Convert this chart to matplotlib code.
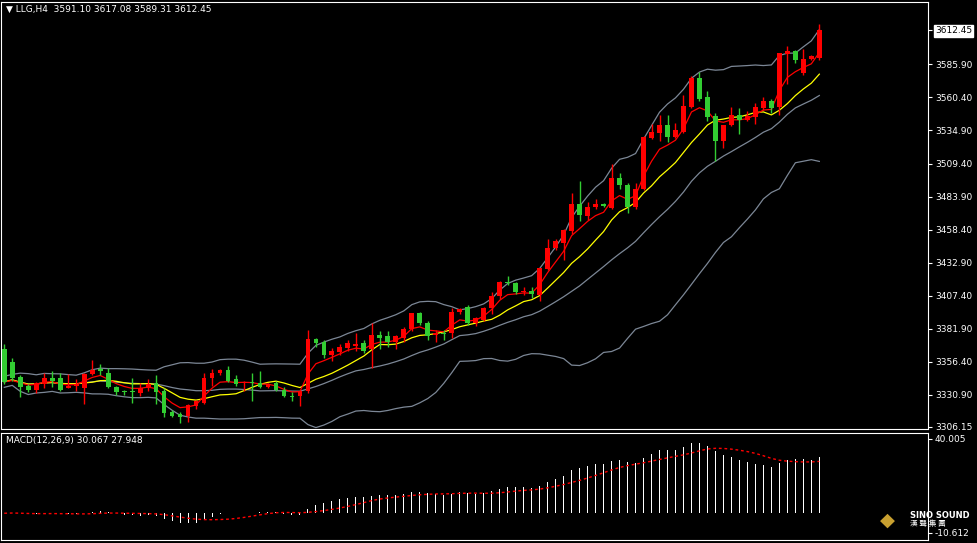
import matplotlib
matplotlib.use("Agg")
import matplotlib.pyplot as plt
import numpy as np
import pandas as pd

opens = [3366,3356,3345,3338,3335,3339,3344,3344,3336,3338,3336,3347,3351,3348,3337,3334,3334,3332,3336,3340,
         3334,3318,3316,3315,3322,3325,3344,3348,3350,3343,3340,3341,3340,3337,3340,3335,3330,3330,3334,3374,
         3372,3362,3364,3367,3369,3371,3366,3377,3376,3372,3375,3382,3394,3386,3377,3379,3379,3395,3399,3386,
         3389,3398,3407,3418,3417,3410,3411,3408,3428,3444,3448,3457,3478,3469,3476,3478,3475,3498,3493,3476,
         3490,3529,3533,3539,3530,3534,3553,3575,3561,3546,3527,3539,3547,3543,3545,3552,3558,3553,3594,3596,
         3579,3590,3591.10]
highs = [3370,3359,3346,3339,3341,3348,3349,3348,3347,3343,3348,3358,3355,3352,3338,3335,3344,3340,3343,3346,
         3336,3319,3318,3324,3327,3348,3351,3351,3353,3346,3342,3348,3349,3340,3342,3337,3333,3335,3381,3375,
         3373,3367,3370,3373,3379,3373,3386,3380,3380,3377,3383,3394,3395,3388,3381,3381,3398,3398,3400,3391,
         3399,3410,3419,3423,3418,3414,3414,3429,3451,3451,3459,3487,3496,3480,3482,3479,3509,3502,3494,3494,
         3531,3540,3547,3547,3541,3562,3577,3580,3565,3548,3539,3553,3552,3550,3556,3561,3559,3595,3600,3597,
         3598,3593,3617.08]
lows = [3339,3342,3329,3333,3332,3336,3337,3334,3336,3334,3324,3346,3346,3336,3331,3331,3325,3330,3334,3324,
        3314,3314,3309,3310,3320,3324,3338,3346,3341,3338,3334,3326,3336,3336,3334,3329,3326,3322,3332,3368,
        3359,3357,3362,3365,3365,3363,3352,3366,3368,3366,3372,3380,3385,3373,3372,3373,3375,3393,3385,3384,
        3388,3393,3405,3416,3409,3408,3406,3403,3427,3443,3435,3455,3465,3466,3474,3476,3474,3490,3471,3474,
        3489,3528,3527,3526,3529,3533,3552,3558,3542,3511,3521,3538,3532,3542,3540,3551,3548,3547,3571,3587,
        3578,3589,3589.31]
closes = [3341,3344,3337,3335,3340,3344,3342,3335,3338,3339,3347,3350,3349,3337,3333,3333,3333,3336,3339,3333,
          3317,3315,3314,3323,3326,3344,3348,3350,3342,3339,3341,3340,3337,3339,3335,3330,3329,3334,3374,3371,
          3362,3365,3368,3371,3370,3365,3377,3375,3372,3376,3382,3394,3386,3376,3379,3378,3395,3397,3386,3390,
          3398,3407,3418,3417,3410,3411,3409,3429,3444,3450,3458,3478,3470,3476,3478,3477,3498,3493,3476,3490,
          3530,3534,3539,3530,3535,3554,3575,3559,3545,3527,3539,3547,3543,3546,3553,3558,3552,3595,3596,3589,
          3590,3592,3612.45]
price_ticks = [3612.45,3585.90,3560.40,3534.90,3509.40,3483.90,3458.40,3432.90,3407.40,3381.90,3356.40,3330.90,3306.15]
macd_ticks = [40.005, -10.612]

o = np.array(opens); h = np.array(highs); l = np.array(lows); c = np.array(closes)
n = len(c); x = np.arange(n)
s = pd.Series(c)
ma_red = s.ewm(span=5, adjust=False).mean()
ma_yel = s.rolling(10, min_periods=1).mean()
mid = s.rolling(20, min_periods=1).mean()
sd = s.rolling(20, min_periods=2).std().bfill()
up, lo = mid + 2*sd, mid - 2*sd
macd = s.ewm(span=12, adjust=False).mean() - s.ewm(span=26, adjust=False).mean()
sig = macd.rolling(9, min_periods=1).mean()

W, H = 977, 543
fig = plt.figure(figsize=(W/100, H/100), dpi=100, facecolor='black')
ax = fig.add_axes([1/W, 1-429/H, 927/W, 427/H], facecolor='black')
ax2 = fig.add_axes([1/W, 1-540/H, 927/W, 107/H], facecolor='black')
for a in (ax, ax2):
    for sp in a.spines.values():
        sp.set_color('white'); sp.set_linewidth(0.8)
    a.set_xlim(-0.41, 115.6)
    a.tick_params(axis='x', bottom=False, labelbottom=False)
    a.yaxis.tick_right()
    a.tick_params(axis='y', colors='white', labelsize=6.5, length=3, pad=2, left=False)

gray = '#7c8796'
ax.plot(x, up, color=gray, lw=0.9)
ax.plot(x, mid, color=gray, lw=0.9)
ax.plot(x, lo, color=gray, lw=0.9)
ax.plot(x, ma_yel, color='#ffff00', lw=0.9)
ax.plot(x, ma_red, color='#ff0000', lw=0.9)

col = np.where(c >= o, '#ff0000', '#32cd32')
ax.vlines(x, l, h, colors=col, lw=1, zorder=3)
bott = np.minimum(o, c); ht = np.maximum(np.abs(c - o), 0.6)
ax.bar(x, ht, bottom=bott, width=0.6, color=col, zorder=4)

ax.set_ylim(3304.6, 3634)
ax.set_yticks(price_ticks)
ax.set_yticklabels(['%.2f' % v for v in price_ticks])
lab = ax.get_yticklabels()[0]
lab.set_color('black'); lab.set_bbox(dict(facecolor='white', edgecolor='white', pad=1))
ax.text(0.005, 0.983, '\u25bc LLG,H4  3591.10 3617.08 3589.31 3612.45', transform=ax.transAxes,
        color='white', fontsize=6.5, va='center')

ax2.bar(x, macd, width=0.12, color='white', zorder=3)
ax2.plot(x, sig, color='#ff0000', lw=1, ls=(0, (2, 2)), zorder=4)
ax2.set_ylim(-14.4, 43.2)
ax2.set_yticks(macd_ticks)
ax2.set_yticklabels(['40.005', '-10.612'])
ax2.text(0.005, 0.93, 'MACD(12,26,9) 30.067 27.948', transform=ax2.transAxes, color='white',
         fontsize=6.5, va='center')

fig.text(910/W, 1-515/H, 'SINO SOUND', color='white', fontsize=6, fontweight='bold', va='center')
fig.text(910/W, 1-524/H, '漢 聲 集 團', color='white', fontsize=5.5, va='center',
         family=['Noto Sans CJK TC', 'DejaVu Sans'])
fig.text(887/W, 1-520/H, '◆', color='#c8a030', fontsize=14, va='center', ha='center')
fig.savefig('out.png', dpi=100, facecolor='black')
